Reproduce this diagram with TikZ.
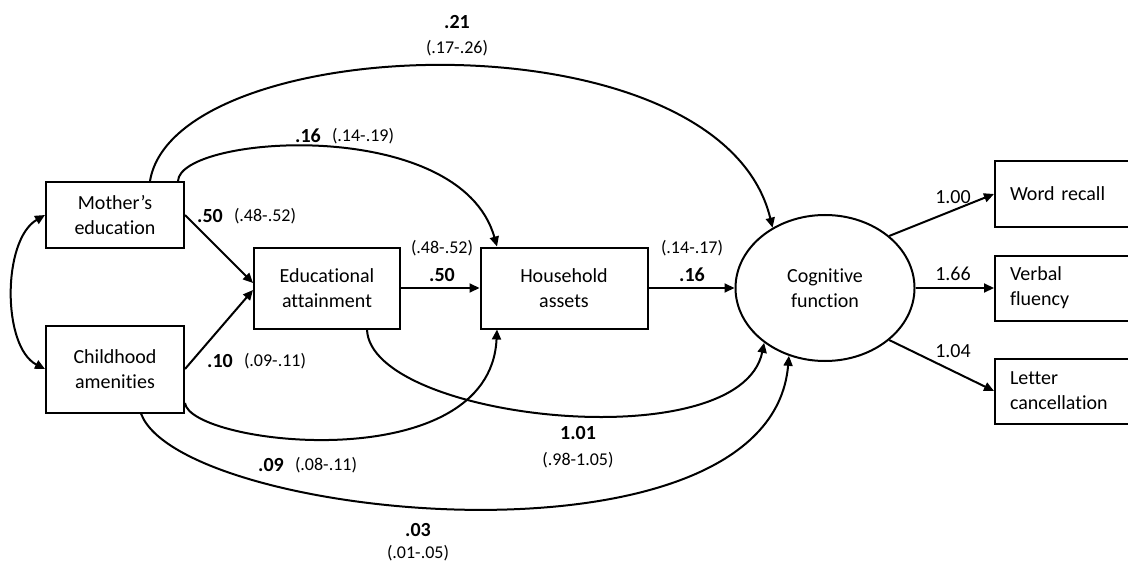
\documentclass[tikz,border=0pt]{standalone}
\usepackage{fontspec}
\setmainfont{Carlito}[Ligatures=NoCommon]
\usetikzlibrary{positioning, arrows.meta, shapes.geometric}

\begin{document}
\begin{tikzpicture}[x=0.5pt, y=-0.5pt, line width=1pt, on grid,
        >={Triangle[length=5pt, width=4.5pt]}]
    \tikzset{
        var/.style={draw, align=center, inner sep=0pt, font=\fontsize{10}{12.5}\selectfont},
        ind/.style={draw, align=left, text width=53pt, inner xsep=7.5pt, inner ysep=0pt,
                    minimum height=32.5pt, font=\fontsize{10}{12.5}\selectfont},
        est/.style={font=\bfseries\fontsize{10}{12}\selectfont},
        ci/.style={font=\fontsize{9}{11}\selectfont},
        load/.style={font=\fontsize{10}{12}\selectfont}
    }
    \useasboundingbox (0,0) rectangle (1128,561);

    \node[var, minimum width=69pt, minimum height=33pt] (mother) at (115,215) {Mother’s\\education};
    \node[var, minimum width=69pt, minimum height=43.5pt] (child) [below=77pt of mother] {Childhood\\amenities};
    \node[var, minimum width=73pt, minimum height=40.5pt] (edu) at (327,288) {Educational\\attainment};
    \node[var, minimum width=83.5pt, minimum height=40.5pt] (assets) [right=118.5pt of edu] {Household\\assets};
    \node[var, ellipse, minimum width=89.5pt, minimum height=73pt] (cog) [right=130.5pt of assets] {Cognitive\\function};

    \node[ind] (verbal) [right=119pt of cog] {Verbal\\fluency};
    \node[ind] (recall) [above=47pt of verbal] {Word recall};
    \node[ind] (letter) [below=51.5pt of verbal] {Letter\\cancellation};

    % straight paths
    \path[->]
        (mother.east) edge ([yshift=2.5pt]edu.west)
        (child.east) edge ([yshift=-1pt]edu.west)
        (edu.east) edge (assets.west)
        (assets.east) edge (cog.west)
        (cog.39) edge (recall.west)
        (cog.east) edge (verbal.west)
        (cog.-39) edge (letter.west);

    % curved paths
    \draw[<->] (mother.west) .. controls (2,240) and (2,347) .. (child.west);
    \draw[->] ([xshift=17.5pt]mother.north) .. controls (175,30) and (720,10) .. (cog.131);
    \draw[->] ([xshift=-3.5pt]mother.north east) .. controls (180,135) and (460,115) .. ([xshift=-33.5pt]assets.north);
    \draw[->] ([yshift=-17pt]child.east) .. controls (190,445) and (490,480) .. ([xshift=-33.5pt]assets.south);
    \draw[->] ([xshift=20pt]edu.south) .. controls (370,420) and (740,460) .. (cog.222);
    \draw[->] ([xshift=13pt]child.south) .. controls (180,520) and (770,580) .. (cog.242);

    % estimates
    \node[est] (e21) at (457,22) {.21};
    \node[ci] (c21) at (457,48) {(.17-.26)};
    \node[est] (e16a) at (308,136) {.16};
    \node[ci] (c16a) at (363,136) {(.14-.19)};
    \node[est] (e50a) at (210,216) {.50};
    \node[ci] (c50a) at (265,216) {(.48-.52)};
    \node[est] (e10) at (220,361) {.10};
    \node[ci] (c10) at (275,361) {(.09-.11)};
    \node[ci] (c50b) at (442,248) {(.48-.52)};
    \node[est] (e50b) at (442,275) {.50};
    \node[ci] (c16b) at (692,248) {(.14-.17)};
    \node[est] (e16b) at (692,275) {.16};
    \node[est] (e101) at (578,433) {1.01};
    \node[ci] (c101) at (578,460) {(.98-1.05)};
    \node[est] (e09) at (271,465) {.09};
    \node[ci] (c09) at (326,465) {(.08-.11)};
    \node[est] (e03) at (418,530) {.03};
    \node[ci] (c03) at (418,553) {(.01-.05)};

    \node[load] (l100) at (953,197) {1.00};
    \node[load] (l166) at (953,274) {1.66};
    \node[load] (l104) at (953,351) {1.04};

\end{tikzpicture}
\end{document}
